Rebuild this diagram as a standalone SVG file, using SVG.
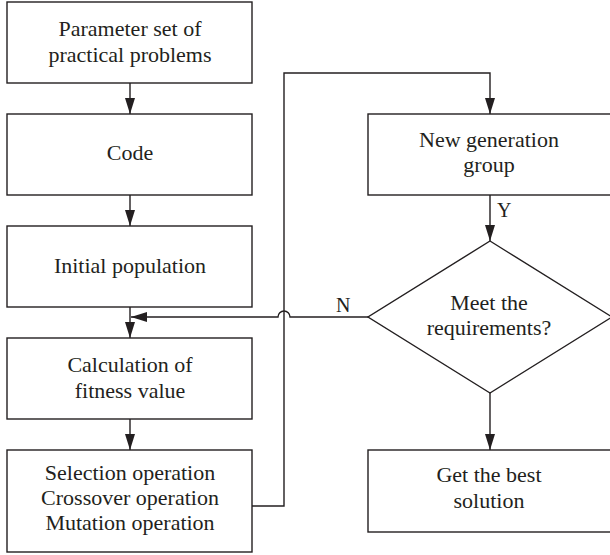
<svg xmlns="http://www.w3.org/2000/svg" width="610" height="555" viewBox="0 0 610 555">
<style>
.box{fill:#fff;stroke:#231f20;stroke-width:1.4}
.t{font-family:"Liberation Serif","Times New Roman",serif;font-size:22px;fill:#231f20;text-anchor:middle}
.lb{font-family:"Liberation Serif","Times New Roman",serif;font-size:20px;fill:#231f20}
.c{fill:none;stroke:#231f20;stroke-width:1.4}
</style>
<defs>
<marker id="ah" markerUnits="userSpaceOnUse" markerWidth="16" markerHeight="10" refX="16" refY="5" orient="auto">
<path d="M0,0 L16,5 L0,10 z" fill="#231f20"/>
</marker>
</defs>
<rect width="610" height="555" fill="#fff"/>
<g id="connectors">
<path class="c" d="M130,83 V114" marker-end="url(#ah)"/>
<path class="c" d="M130,195 V226" marker-end="url(#ah)"/>
<path class="c" d="M130,307 V338" marker-end="url(#ah)"/>
<path class="c" d="M130,419 V450" marker-end="url(#ah)"/>
<path class="c" d="M252,506 H284 V73 H490 V114" marker-end="url(#ah)"/>
<path class="c" d="M490,195 V241" marker-end="url(#ah)"/>
<path class="c" d="M490,393 V450" marker-end="url(#ah)"/>
<path class="c" d="M368,317 H290 A6,6 0 0 0 278,317 H131" marker-end="url(#ah)"/>
<text class="lb" x="497" y="217">Y</text>
<text class="lb" x="336" y="312">N</text>
</g>
<g id="n1">
<rect class="box" x="7" y="2" width="245" height="81"/>
<text class="t" x="130" y="36">Parameter set of</text>
<text class="t" x="130" y="62">practical problems</text>
</g>
<g id="n2">
<rect class="box" x="7" y="114" width="245" height="81"/>
<text class="t" x="130" y="160">Code</text>
</g>
<g id="n3">
<rect class="box" x="7" y="226" width="245" height="81"/>
<text class="t" x="130" y="273">Initial population</text>
</g>
<g id="n4">
<rect class="box" x="7" y="338" width="245" height="81"/>
<text class="t" x="130" y="372">Calculation of</text>
<text class="t" x="130" y="398">fitness value</text>
</g>
<g id="n5">
<rect class="box" x="7" y="450" width="245" height="102"/>
<text class="t" x="130" y="480">Selection operation</text>
<text class="t" x="130" y="505">Crossover operation</text>
<text class="t" x="130" y="530">Mutation operation</text>
</g>
<g id="n6">
<rect class="box" x="368" y="114" width="244" height="81"/>
<text class="t" x="489" y="147">New generation</text>
<text class="t" x="489" y="172">group</text>
</g>
<g id="n7">
<polygon class="box" points="490,241 612,317 490,393 368,317"/>
<text class="t" x="489" y="310">Meet the</text>
<text class="t" x="489" y="335">requirements?</text>
</g>
<g id="n8">
<rect class="box" x="368" y="450" width="244" height="82"/>
<text class="t" x="489" y="482">Get the best</text>
<text class="t" x="489" y="508">solution</text>
</g>
</svg>
